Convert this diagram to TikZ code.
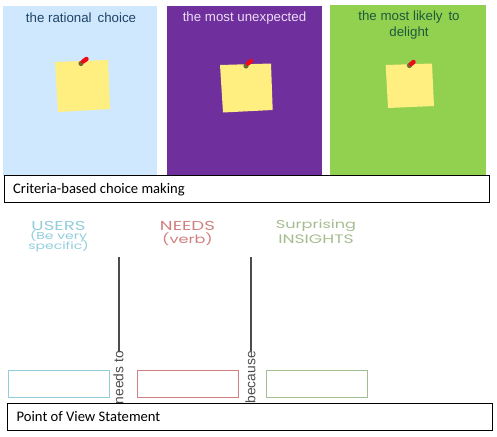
\documentclass[tikz,border=0pt]{standalone}
\usepackage{fontspec}
\setmainfont{Liberation Sans}
\newfontfamily\capfont{Carlito}
\newfontfamily\headfont[FakeStretch=1.4]{Poppins}
\definecolor{panelblue}{HTML}{D0E8FD}
\definecolor{panelpurple}{HTML}{6F2F9D}
\definecolor{panelgreen}{HTML}{92D050}
\definecolor{noteyellow}{HTML}{FFEE80}
\definecolor{usercol}{HTML}{92CDDC}
\definecolor{needcol}{HTML}{D08080}
\definecolor{insightcol}{HTML}{A5BC90}
\definecolor{pinred}{HTML}{EE0A18}
\definecolor{pinbase}{HTML}{6E6A35}
\definecolor{titleblue}{HTML}{1F4468}
\definecolor{titlegreen}{HTML}{1E5A3C}
\definecolor{titlepale}{HTML}{EBDDF5}
\tikzset{
  panel/.style={draw=none,inner sep=0pt,anchor=north west},
  paneltitle/.style={inner sep=0pt,font=\fontsize{13.3}{16.5}\selectfont,align=center},
  note/.style={fill=noteyellow,draw=none},
  pinhead/.style={draw=pinred,line width=4.4pt,line cap=round},
  pinfoot/.style={fill=pinbase,draw=none},
  caption/.style={draw=black,line width=0.9pt,fill=white,inner sep=0pt,anchor=north west,
    minimum width=485pt,minimum height=27pt},
  captext/.style={inner sep=0pt,anchor=west,font=\capfont\fontsize{14.6}{17}\selectfont},
  head/.style={inner sep=0pt,anchor=center,font=\headfont\fontsize{13}{13}\selectfont},
  slot/.style={draw=#1,line width=1.1pt,inner sep=0pt,anchor=north west,minimum width=101pt,minimum height=27pt},
  joinword/.style={rotate=90,anchor=east,inner sep=0pt,text=black!70,font=\fontsize{13.8}{15}\selectfont},
  joinline/.style={draw=black!70,line width=2pt}
}
\begin{document}
\begin{tikzpicture}[x=1pt,y=-1pt]
\useasboundingbox (0,0) rectangle (497,436);
% panels
\node[panel,fill=panelblue,minimum width=154pt,minimum height=170pt] (pa) at (3,6) {};
\node[panel,fill=panelpurple,minimum width=155pt,minimum height=170pt] (pb) at (167,6) {};
\node[panel,fill=panelgreen,minimum width=156pt,minimum height=170pt] (pc) at (330,5) {};
\node[paneltitle,text=titleblue] (ta) at (81,18) {the rational\, choice};
\node[paneltitle,text=titlepale] (tb) at (244.5,18) {the most unexpected};
\node[paneltitle,text=titlegreen] (tc) at (409,25) {the most likely\, to\\delight};
% notes
\fill[note] (55,62) -- (108,60) -- (110,109) -- (58,112) -- cycle;
\fill[note] (220,65) -- (271,63.5) -- (272.7,110) -- (223,112.5) -- cycle;
\fill[note] (385.7,65) -- (432,63.5) -- (434,106) -- (388,108) -- cycle;
% pins
\fill[pinfoot] (81,63.5) circle (2.6pt);
\draw[pinhead] (83,61.5) -- (86.5,59);
\fill[pinfoot] (246,66) circle (2.6pt);
\draw[pinhead] (248,63.5) -- (251,61);
\fill[pinfoot] (409.5,65.5) circle (2.6pt);
\draw[pinhead] (411,64) -- (413.5,62);
% headings
\node[head,text=usercol] (hu1) at (58.5,225.5) {USERS};
\node[head,text=usercol,font=\headfont\fontsize{10}{10}\selectfont] (hu2) at (58.5,236.5) {(Be very};
\node[head,text=usercol,font=\headfont\fontsize{10}{10}\selectfont] (hu3) at (58.5,246) {specific)};
\node[head,text=needcol] (hn1) at (187.5,225.5) {NEEDS};
\node[head,text=needcol,font=\headfont\fontsize{11.5}{11.5}\selectfont] (hn2) at (187.5,239) {(verb)};
\node[head,text=insightcol,font=\headfont\fontsize{11.5}{11.5}\selectfont] (hi1) at (316,226) {Surprising};
\node[head,text=insightcol,font=\headfont\fontsize{12.3}{12.3}\selectfont] (hi2) at (316,239) {INSIGHTS};
% slots
\node[slot=usercol] (su) at (8,370) {};
\node[slot=needcol] (sn) at (137,370) {};
\node[slot=insightcol] (si) at (266,370) {};
% connector labels and lines
\node[joinword] (wn) at (118.5,351) {needs to};
\node[joinword] (wb) at (250.5,351) {because};
\coordinate (nt) at (wn.east |- 0,257);
\coordinate (bt) at (wb.east |- 0,257);
\draw[joinline] (nt) -- (wn.east);
\draw[joinline] (bt) -- (wb.east);
% captions
\node[caption] (c1) at (3.5,175) {};
\node[captext] (c1t) at (13,190) {Criteria-based choice making};
\node[caption] (c2) at (6.5,403) {};
\node[captext] (c2t) at (16.5,417) {Point of View Statement};
\end{tikzpicture}
\end{document}
